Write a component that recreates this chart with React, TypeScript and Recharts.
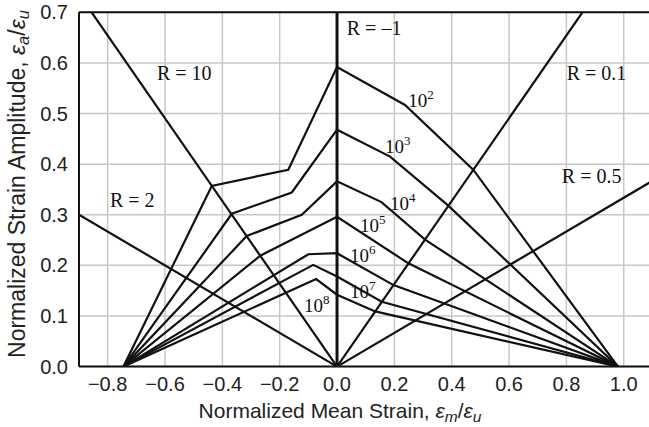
import React from 'react';
import { LineChart, Line, XAxis, YAxis, CartesianGrid, ReferenceLine, ReferenceDot } from 'recharts';

// Axis ticks
const xTicks = [-0.8, -0.6, -0.4, -0.2, 0, 0.2, 0.4, 0.6, 0.8, 1.0];
const yTicks = [0, 0.1, 0.2, 0.3, 0.4, 0.5, 0.6, 0.7];

// Constant R-ratio lines (through the origin)
const lineRMinus1 = [{ x: 0, y: 0 }, { x: 0, y: 0.7 }];
const lineR10 = [{ x: 0, y: 0 }, { x: -0.856, y: 0.7 }];
const lineR2 = [{ x: 0, y: 0 }, { x: -0.9, y: 0.3 }];
const lineR01 = [{ x: 0, y: 0 }, { x: 0.856, y: 0.7 }];
const lineR05 = [{ x: 0, y: 0 }, { x: 1.1, y: 0.367 }];

// Constant life curves (cycles to failure)
const life1e2 = [
  { x: -0.745, y: 0 }, { x: -0.437, y: 0.357 }, { x: -0.17, y: 0.389 }, { x: 0, y: 0.592 },
  { x: 0.237, y: 0.517 }, { x: 0.475, y: 0.389 }, { x: 0.98, y: 0 },
];
const life1e3 = [
  { x: -0.745, y: 0 }, { x: -0.367, y: 0.302 }, { x: -0.158, y: 0.344 }, { x: 0, y: 0.468 },
  { x: 0.185, y: 0.415 }, { x: 0.388, y: 0.318 }, { x: 0.98, y: 0 },
];
const life1e4 = [
  { x: -0.745, y: 0 }, { x: -0.315, y: 0.258 }, { x: -0.123, y: 0.3 }, { x: 0, y: 0.366 },
  { x: 0.155, y: 0.325 }, { x: 0.307, y: 0.251 }, { x: 0.98, y: 0 },
];
const life1e5 = [
  { x: -0.745, y: 0 }, { x: -0.268, y: 0.219 }, { x: 0, y: 0.296 },
  { x: 0.249, y: 0.204 }, { x: 0.98, y: 0 },
];
const life1e6 = [
  { x: -0.745, y: 0 }, { x: -0.1, y: 0.222 }, { x: 0, y: 0.224 },
  { x: 0.197, y: 0.161 }, { x: 0.98, y: 0 },
];
const life1e7 = [
  { x: -0.745, y: 0 }, { x: -0.083, y: 0.201 }, { x: 0, y: 0.178 },
  { x: 0.156, y: 0.128 }, { x: 0.98, y: 0 },
];
const life1e8 = [
  { x: -0.745, y: 0 }, { x: -0.073, y: 0.173 }, { x: 0, y: 0.142 },
  { x: 0.133, y: 0.109 }, { x: 0.98, y: 0 },
];

const rLines = [lineR10, lineR2, lineR01, lineR05];
const lifeCurves = [life1e2, life1e3, life1e4, life1e5, life1e6, life1e7, life1e8];

// Annotation texts and their anchor points (data coordinates)
const rLabelTexts = ['R = 10', 'R = 2', 'R = \u20131', 'R = 0.1', 'R = 0.5'];
const rLabelX = [-0.628, -0.792, 0.034, 0.801, 0.784];
const rLabelY = [0.567, 0.316, 0.656, 0.567, 0.363];

const lifeExponents = ['2', '3', '4', '5', '6', '7', '8'];
const lifeLabelX = [0.248, 0.167, 0.185, 0.08, 0.045, 0.045, -0.115];
const lifeLabelY = [0.513, 0.422, 0.31, 0.266, 0.207, 0.136, 0.108];

const SANS = '"Liberation Sans", Arial, Helvetica, sans-serif';
const SERIF = '"Liberation Serif", "Times New Roman", serif';
const INK = '#111';

const fmt = (v: number) => (v < 0 ? '\u2212' + Math.abs(v).toFixed(1) : v.toFixed(1));

const noShape = () => <g />;

export default function App() {
  return (
    <div style={{ position: 'absolute', left: 0, top: 0, width: 649, height: 427, overflow: 'hidden', background: '#fff' }}>
      <LineChart width={660} height={427} margin={{ top: 12.3, right: 7.6, bottom: 0, left: 0 }}>
        <CartesianGrid stroke="#c8c8c8" strokeWidth={1.5} />
        <XAxis
          type="number"
          dataKey="x"
          domain={[-0.9, 1.1]}
          ticks={xTicks}
          interval={0}
          allowDataOverflow
          tickFormatter={fmt}
          tickLine={false}
          tickSize={0}
          tickMargin={10}
          height={60.4}
          axisLine={{ stroke: INK, strokeWidth: 2 }}
          tick={{ fill: '#222', fontSize: 20, fontFamily: SANS }}
          label={{
            content: () => (
              <text x={340} y={418} textAnchor="middle" fontFamily={SANS} fontSize={21} fill="#222">
                Normalized Mean Strain,{' '}
                <tspan fontStyle="italic">ε</tspan>
                <tspan fontStyle="italic" fontSize={15.5} dy={4}>m</tspan>
                <tspan dy={-4}>/</tspan>
                <tspan fontStyle="italic">ε</tspan>
                <tspan fontStyle="italic" fontSize={15.5} dy={4}>u</tspan>
              </text>
            ),
          }}
        />
        <YAxis
          type="number"
          dataKey="y"
          domain={[0, 0.7]}
          ticks={yTicks}
          interval={0}
          allowDataOverflow
          width={79}
          tickFormatter={(v: number) => v.toFixed(1)}
          tickLine={false}
          tickSize={0}
          tickMargin={11}
          axisLine={{ stroke: INK, strokeWidth: 2 }}
          tick={{ fill: '#222', fontSize: 20, fontFamily: SANS }}
          label={{
            content: () => (
              <text transform="rotate(-90)" x={-184} y={25} textAnchor="middle" fontFamily={SANS} fontSize={23} fill="#222">
                Normalized Strain Amplitude,{' '}
                <tspan fontStyle="italic">ε</tspan>
                <tspan fontStyle="italic" fontSize={16.5} dy={4}>a</tspan>
                <tspan dy={-4}>/</tspan>
                <tspan fontStyle="italic">ε</tspan>
                <tspan fontStyle="italic" fontSize={16.5} dy={4}>u</tspan>
              </text>
            ),
          }}
        />
        <ReferenceLine y={0.7} stroke={INK} strokeWidth={2} />
        {rLines.map((d, i) => (
          <Line key={'r' + i} data={d} dataKey="y" type="linear" stroke={INK} strokeWidth={2.2} dot={false} activeDot={false} isAnimationActive={false} />
        ))}
        <Line data={lineRMinus1} dataKey="y" type="linear" stroke={INK} strokeWidth={3} dot={false} activeDot={false} isAnimationActive={false} />
        {lifeCurves.map((d, i) => (
          <Line key={'l' + i} data={d} dataKey="y" type="linear" stroke={INK} strokeWidth={2.2} dot={false} activeDot={false} isAnimationActive={false} />
        ))}
        {rLabelTexts.map((t, i) => (
          <ReferenceDot
            key={'rl' + i}
            x={rLabelX[i]}
            y={rLabelY[i]}
            r={0}
            shape={noShape}
            label={{
              content: (p: any) => (
                <text x={p.viewBox.x} y={p.viewBox.y} fontFamily={SERIF} fontSize={20} fill={INK}>
                  {t}
                </text>
              ),
            }}
          />
        ))}
        {lifeExponents.map((e, i) => (
          <ReferenceDot
            key={'ll' + i}
            x={lifeLabelX[i]}
            y={lifeLabelY[i]}
            r={0}
            shape={noShape}
            label={{
              content: (p: any) => (
                <text x={p.viewBox.x} y={p.viewBox.y} fontFamily={SERIF} fontSize={19} fill={INK}>
                  10
                  <tspan fontSize={13} dy={-8}>{e}</tspan>
                </text>
              ),
            }}
          />
        ))}
      </LineChart>
    </div>
  );
}
